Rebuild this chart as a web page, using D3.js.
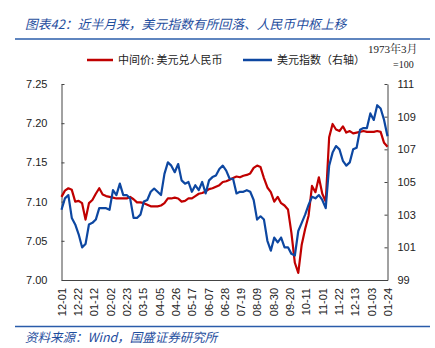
<!DOCTYPE html>
<html><head><meta charset="utf-8">
<script src="https://cdn.jsdelivr.net/npm/d3@7"></script>
<style>body{margin:0;background:#fff}svg{display:block}</style>
</head><body>
<svg id="c" width="435" height="348"></svg>
<script>
const tickLabels = ["12-01","12-22","01-12","02-02","02-23","03-15","04-05","04-26","05-17","06-07","06-28","07-19","08-09","08-30","09-20","10-11","11-01","11-22","12-13","01-03","01-24"];
const cnyValues = [7.106,7.114,7.117,7.115,7.100,7.101,7.098,7.077,7.098,7.102,7.110,7.117,7.109,7.107,7.106,7.105,7.104,7.104,7.104,7.104,
7.106,7.103,7.099,7.099,7.098,7.096,7.094,7.094,7.094,7.095,7.098,7.104,7.104,7.105,7.104,7.100,7.101,7.104,7.104,7.107,
7.110,7.111,7.113,7.116,7.117,7.119,7.121,7.125,7.126,7.128,7.130,7.132,7.131,7.133,7.134,7.136,7.143,7.146,7.144,7.130,
7.118,7.112,7.100,7.106,7.098,7.095,7.090,7.060,7.022,7.009,7.045,7.065,7.082,7.120,7.112,7.131,7.110,7.100,7.182,7.199,
7.192,7.190,7.196,7.188,7.190,7.187,7.188,7.189,7.190,7.189,7.189,7.189,7.190,7.189,7.175,7.170];
const dxyValues = [103.3,104.0,104.2,102.8,102.4,101.8,101.0,101.2,102.4,102.5,102.7,103.4,103.4,103.4,103.3,104.5,104.2,104.9,104.2,104.2,
104.0,102.8,102.8,103.0,103.8,103.9,104.4,104.6,104.4,104.2,105.5,106.2,106.0,105.6,106.1,105.1,104.9,105.0,104.4,104.8,
104.5,105.0,104.3,105.1,105.3,105.4,105.8,106.0,105.7,105.2,105.2,104.3,104.4,104.4,104.5,104.4,103.9,102.7,102.9,102.7,
101.4,100.8,101.6,101.3,101.6,101.0,101.0,100.6,100.5,102.0,102.5,103.0,103.6,104.1,104.0,104.2,103.9,103.4,106.0,106.8,
107.2,107.0,106.3,106.0,106.2,107.0,107.1,108.2,108.3,108.3,109.2,108.8,109.7,109.5,108.8,107.8];
const leftTicks = [7.00,7.05,7.10,7.15,7.20,7.25];
const rightTicks = [99,101,103,105,107,109,111];

const svg = d3.select("#c");
const L = 61.5, R = 387.5, T = 84, B = 280;
const N = cnyValues.length - 1;
const x = d3.scaleLinear().domain([0, N]).range([L, R]);
const yL = d3.scaleLinear().domain([7.00, 7.25]).range([B, T]);
const yR = d3.scaleLinear().domain([99, 111]).range([B, T]);
const tickPos = tickLabels.map((_, i) => i * N / (tickLabels.length - 1));

const blueText = "#1f4e9e";
svg.append("text").attr("x", 25).attr("y", 29)
  .attr("font-family", "'Noto Sans CJK SC'").attr("font-style", "italic")
  .attr("font-size", 12.8).attr("fill", blueText).text("图表42：近半月来，美元指数有所回落、人民币中枢上移");
svg.append("line").attr("x1", 15).attr("x2", 430).attr("y1", 39).attr("y2", 39)
  .attr("stroke", "#2a5caa").attr("stroke-width", 1.5);
svg.append("line").attr("x1", 15).attr("x2", 430).attr("y1", 326.5).attr("y2", 326.5)
  .attr("stroke", "#2a5caa").attr("stroke-width", 1.5);
svg.append("text").attr("x", 25).attr("y", 342)
  .attr("font-family", "'Noto Sans CJK SC'").attr("font-style", "italic")
  .attr("font-size", 12.5).attr("fill", blueText).text("资料来源：Wind，国盛证券研究所");

const leg = [{c:"#c00000", t:"中间价: 美元兑人民币", x1:87, x2:113, tx:118},
             {c:"#0d47a1", t:"美元指数（右轴）", x1:243, x2:272, tx:277}];
leg.forEach(d => {
  svg.append("line").attr("x1", d.x1).attr("x2", d.x2).attr("y1", 60).attr("y2", 60)
    .attr("stroke", d.c).attr("stroke-width", 2.5);
  svg.append("text").attr("x", d.tx).attr("y", 64).attr("font-family", "'Noto Sans CJK SC'")
    .attr("font-size", 11).attr("fill", "#222").text(d.t);
});
svg.append("text").attr("x", 368).attr("y", 53).attr("font-family", "'Liberation Serif','Noto Serif CJK SC',serif")
  .attr("font-size", 11).attr("fill", "#222").text("1973年3月");
svg.append("text").attr("x", 393).attr("y", 68).attr("font-family", "'Liberation Serif',serif")
  .attr("font-size", 10).attr("fill", "#222").text("=100");

const axisFont = "'Liberation Sans', Arial, sans-serif";
const gl = svg.append("g").attr("transform", `translate(${L},0)`)
  .call(d3.axisLeft(yL).tickValues(leftTicks).tickFormat(d3.format(".2f")).tickSizeInner(-3).tickSizeOuter(0).tickPadding(14));
const gr = svg.append("g").attr("transform", `translate(${R},0)`)
  .call(d3.axisRight(yR).tickValues(rightTicks).tickSizeInner(-3).tickSizeOuter(0).tickPadding(10));
const gb = svg.append("g").attr("transform", `translate(0,${B})`)
  .call(d3.axisBottom(x).tickValues(tickPos)
    .tickFormat((d, i) => tickLabels[i]).tickSize(0).tickPadding(0));
gb.selectAll("text").attr("transform", "rotate(-90)").attr("text-anchor", "end")
  .attr("x", -8).attr("y", 0).attr("dy", "0.35em");
[gl, gr, gb].forEach(g => {
  g.selectAll("text").attr("font-family", axisFont).attr("font-size", 11).attr("fill", "#222");
  g.selectAll("path,line").attr("stroke", "#444").attr("stroke-width", 1);
});

const lineL = d3.line().x((d, i) => x(i)).y(d => yL(d));
const lineR = d3.line().x((d, i) => x(i)).y(d => yR(d));
svg.append("path").datum(cnyValues).attr("d", lineL).attr("fill", "none")
  .attr("stroke", "#c00000").attr("stroke-width", 2.2).attr("stroke-linejoin", "round");
svg.append("path").datum(dxyValues).attr("d", lineR).attr("fill", "none")
  .attr("stroke", "#0d47a1").attr("stroke-width", 2.2).attr("stroke-linejoin", "round");
</script>
</body></html>
